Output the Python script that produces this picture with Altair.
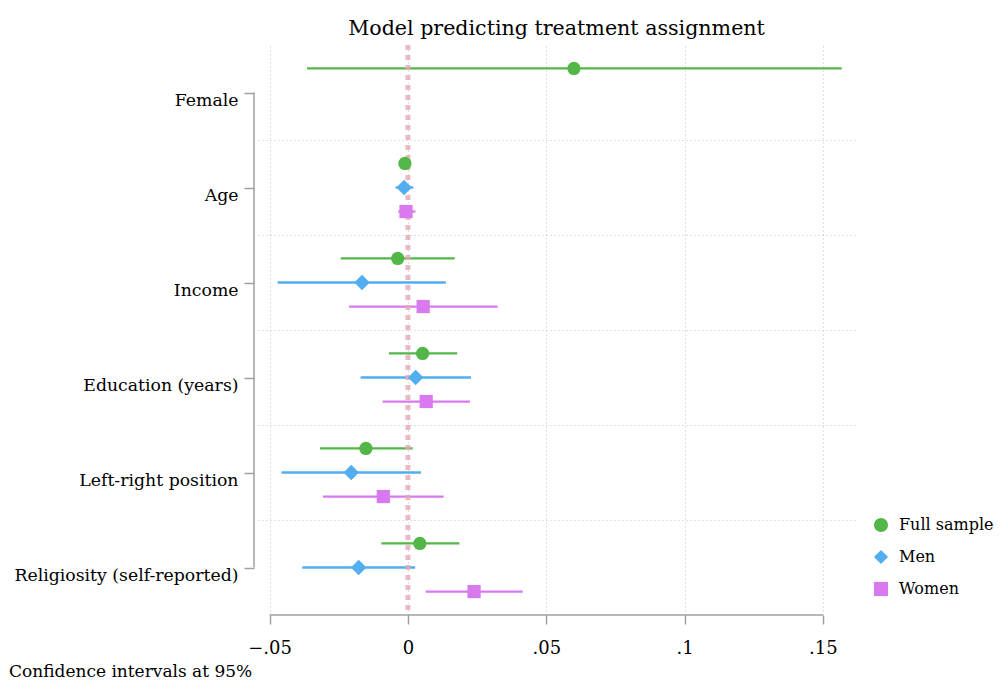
import json
import altair as alt
import pandas as pd

# ---- data ----
categories = ["Female", "Age", "Income", "Education (years)",
              "Left-right position", "Religiosity (self-reported)"]
groups = ["Full sample", "Men", "Women"]

full_coef = [0.0600, -0.0011, -0.0037, 0.0053, -0.0152, 0.0043]
full_lo = [-0.0365, -0.0020, -0.0243, -0.0069, -0.0318, -0.0096]
full_hi = [0.1568, -0.0003, 0.0169, 0.0178, 0.0017, 0.0186]

men_coef = [None, -0.0014, -0.0166, 0.0028, -0.0205, -0.0178]
men_lo = [None, -0.0045, -0.0471, -0.0171, -0.0457, -0.0382]
men_hi = [None, 0.0020, 0.0137, 0.0228, 0.0047, 0.0026]

women_coef = [None, -0.0007, 0.0055, 0.0066, -0.0089, 0.0239]
women_lo = [None, -0.0035, -0.0213, -0.0091, -0.0307, 0.0064]
women_hi = [None, 0.0027, 0.0324, 0.0224, 0.0129, 0.0415]

x_ticks = [-0.05, 0, 0.05, 0.1, 0.15]
title_text = "Model predicting treatment assignment"
note_text = "Confidence intervals at 95%"

colors = ["#53b747", "#53aef0", "#d87aee"]
shapes = ["circle", "diamond", "square"]

# ---- build table ----
series = {"Full sample": (full_coef, full_lo, full_hi),
          "Men": (men_coef, men_lo, men_hi),
          "Women": (women_coef, women_lo, women_hi)}
offset = {"Full sample": -0.253, "Men": 0.0, "Women": 0.253}
rows = []
for g in groups:
    c, lo, hi = series[g]
    for i, cat in enumerate(categories):
        if c[i] is None:
            continue
        rows.append(dict(variable=cat, group=g, coef=c[i], lo=lo[i], hi=hi[i],
                         pos=i + offset[g]))
df = pd.DataFrame(rows)

W, H = 597, 570
PAD_L, PAD_T = 250, 37
PAD_R = 991 - PAD_L - W
PAD_B = 674 - PAD_T - H
FONT = "DejaVu Serif"
FS = 18
GRAY = "#a0a0a0"

xscale = alt.Scale(domain=[-0.0542, 0.1616], nice=False, zero=False)
yscale = alt.Scale(domain=[-0.5, len(categories) - 0.5], reverse=True, nice=False, zero=False)
cscale = alt.Scale(domain=groups, range=colors)
sscale = alt.Scale(domain=groups, range=shapes)

legend = alt.Legend(title=None, orient="none", legendX=615, legendY=472,
                    labelFont=FONT, labelFontSize=16, labelColor="black",
                    symbolSize=200, rowPadding=16, symbolStrokeWidth=0,
                    symbolOpacity=1, labelOffset=10, labelLimit=300)

x_axis = alt.Axis(values=x_ticks, title=None, grid=True, gridDash=[1, 3],
                  gridColor="#c0c0c0", gridWidth=1, domain=False,
                  tickSize=9, tickColor=GRAY, tickWidth=1.5,
                  labelFont=FONT, labelFontSize=FS, labelColor="black", labelPadding=15,
                  labelExpr="datum.value == 0 ? '0' : replace(format(datum.value, '.2~f'), '0.', '.')")

y_axis = alt.Axis(values=list(range(len(categories))), title=None, grid=False, domain=False,
                  tickSize=10, tickColor=GRAY, tickWidth=1.5, offset=4,
                  labelFont=FONT, labelFontSize=17.3, labelColor="black",
                  labelPadding=6, labelOffset=8, labelLimit=400,
                  labelExpr=json.dumps(categories) + "[datum.value]")

y_grid_axis = alt.Axis(orient="right", values=[i + 0.5 for i in range(len(categories) - 1)],
                       title=None, grid=True, gridDash=[1, 3], gridColor="#c0c0c0",
                       labels=False, ticks=False, domain=False)

grid = alt.Chart(df).mark_point(opacity=0).encode(
    y=alt.Y("pos:Q", scale=yscale, axis=y_grid_axis)
)

ci = alt.Chart(df).mark_rule(strokeWidth=2.3).encode(
    x=alt.X("lo:Q", scale=xscale, axis=x_axis),
    x2="hi:Q",
    y=alt.Y("pos:Q", scale=yscale, axis=y_axis),
    color=alt.Color("group:N", scale=cscale, legend=legend),
)

zero = alt.Chart(pd.DataFrame({"z": [0]})).mark_rule(
    color="#e3a9b4", strokeWidth=5, strokeDash=[5, 5], opacity=0.8
).encode(x=alt.X("z:Q", scale=xscale))

points = alt.Chart(df).mark_point(filled=True, opacity=1, strokeWidth=0).encode(
    x=alt.X("coef:Q", scale=xscale),
    y=alt.Y("pos:Q", scale=yscale, axis=None),
    color=alt.Color("group:N", scale=cscale, legend=legend),
    shape=alt.Shape("group:N", scale=sscale, legend=legend),
    size=alt.condition("datum.group == 'Men'", alt.value(240), alt.value(175)),
)

bracket = alt.Chart(pd.DataFrame({"a": [0], "b": [len(categories) - 1]})).mark_rule(
    color=GRAY, strokeWidth=1.5
).encode(x=alt.value(-4), y=alt.Y("a:Q", scale=yscale, axis=None), y2="b:Q")

xline = alt.Chart(pd.DataFrame({"a": [x_ticks[0]], "b": [x_ticks[-1]]})).mark_rule(
    color=GRAY, strokeWidth=1.5
).encode(x=alt.X("a:Q", scale=xscale), x2="b:Q", y=alt.value(H))

note = alt.Chart(pd.DataFrame({"t": [note_text]})).mark_text(
    align="left", baseline="middle", font=FONT, fontSize=17, color="black"
).encode(text="t:N", x=alt.value(-249), y=alt.value(H + 57))

chart = alt.layer(grid, ci, zero, points, bracket, xline, note).resolve_axis(
    y="independent"
).properties(
    width=W, height=H,
    autosize=alt.AutoSizeParams(type="none"),
    padding={"left": PAD_L, "right": PAD_R, "top": PAD_T, "bottom": PAD_B},
    title=alt.Title(title_text, font=FONT, fontSize=20.6, fontWeight="normal",
                    color="black", anchor="middle", offset=3),
).configure_view(stroke=None)

chart.save("out.html", embed_options={"renderer": "svg", "actions": False})
